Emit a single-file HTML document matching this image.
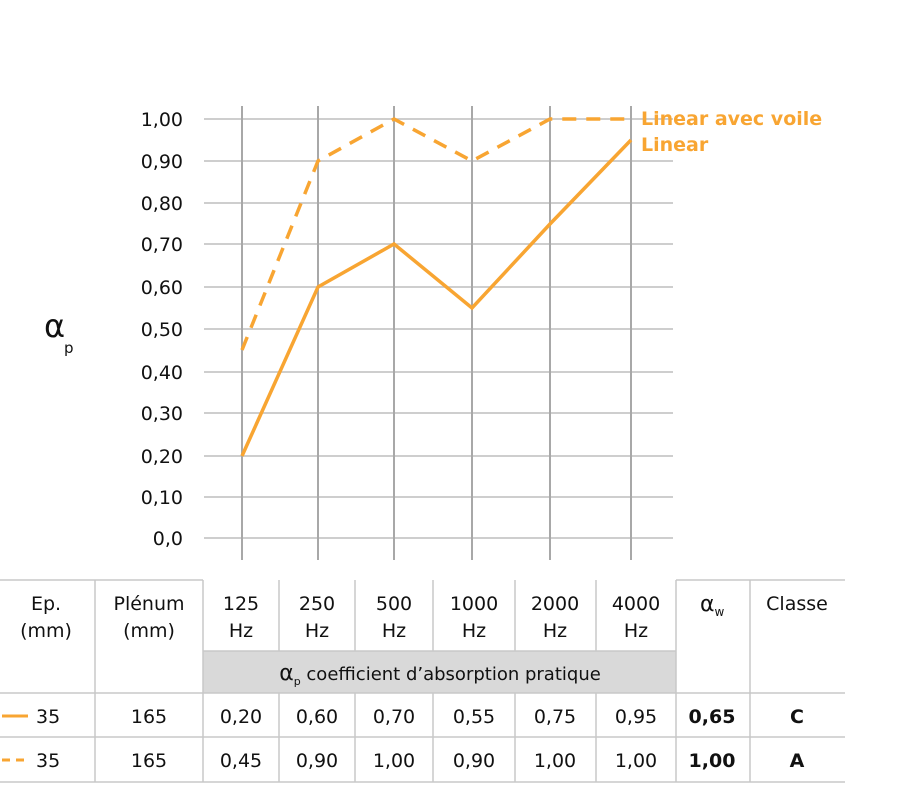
<!DOCTYPE html>
<html><head><meta charset="utf-8"><style>
html,body{margin:0;padding:0;background:#fff;}
svg{display:block;font-family:"DejaVu Sans","Liberation Sans",sans-serif;}
</style></head><body>
<svg width="897" height="801" viewBox="0 0 897 801" xmlns="http://www.w3.org/2000/svg">
<g stroke="#bdbdbd" stroke-width="1.5">
<line x1="204" y1="119" x2="673" y2="119"/>
<line x1="204" y1="161" x2="673" y2="161"/>
<line x1="204" y1="203" x2="673" y2="203"/>
<line x1="204" y1="244" x2="673" y2="244"/>
<line x1="204" y1="287" x2="673" y2="287"/>
<line x1="204" y1="329" x2="673" y2="329"/>
<line x1="204" y1="372" x2="673" y2="372"/>
<line x1="204" y1="413" x2="673" y2="413"/>
<line x1="204" y1="456" x2="673" y2="456"/>
<line x1="204" y1="497" x2="673" y2="497"/>
<line x1="204" y1="538" x2="673" y2="538"/>
</g>
<g stroke="#a8a8a8" stroke-width="2">
<line x1="242" y1="106" x2="242" y2="560"/>
<line x1="318" y1="106" x2="318" y2="560"/>
<line x1="394" y1="106" x2="394" y2="560"/>
<line x1="472" y1="106" x2="472" y2="560"/>
<line x1="550" y1="106" x2="550" y2="560"/>
<line x1="631" y1="106" x2="631" y2="560"/>
</g>
<g font-size="19" fill="#111" text-anchor="end">
<text x="183" y="126">1,00</text>
<text x="183" y="168">0,90</text>
<text x="183" y="210">0,80</text>
<text x="183" y="251">0,70</text>
<text x="183" y="294">0,60</text>
<text x="183" y="336">0,50</text>
<text x="183" y="379">0,40</text>
<text x="183" y="420">0,30</text>
<text x="183" y="463">0,20</text>
<text x="183" y="504">0,10</text>
<text x="183" y="545">0,0</text>
</g>
<text x="44" y="337" font-size="32" fill="#111">α</text>
<text x="64" y="353" font-size="15" fill="#111">p</text>
<polyline points="242,456 318,287 394,244 472,308 550,224 631,140" fill="none" stroke="#f8a532" stroke-width="3.5"/>
<polyline points="242,350 318,161 394,119 472,161 550,119 631,119" fill="none" stroke="#f8a532" stroke-width="3.5" stroke-dasharray="14,10"/>
<g font-size="19" font-weight="bold" fill="#f8a532">
<text x="641" y="125">Linear avec voile</text>
<text x="641" y="151">Linear</text>
</g>
<rect x="203" y="651" width="473" height="42" fill="#d9d9d9"/>
<g stroke="#c8c8c8" stroke-width="1.5">
<line x1="0" y1="580" x2="203" y2="580"/>
<line x1="676" y1="580" x2="845" y2="580"/>
<line x1="203" y1="651" x2="676" y2="651"/>
<line x1="0" y1="693" x2="845" y2="693"/>
<line x1="0" y1="737" x2="845" y2="737"/>
<line x1="0" y1="782" x2="845" y2="782"/>
<line x1="95" y1="580" x2="95" y2="782"/>
<line x1="203" y1="580" x2="203" y2="782"/>
<line x1="279" y1="580" x2="279" y2="651"/>
<line x1="355" y1="580" x2="355" y2="651"/>
<line x1="433" y1="580" x2="433" y2="651"/>
<line x1="515" y1="580" x2="515" y2="651"/>
<line x1="596" y1="580" x2="596" y2="651"/>
<line x1="676" y1="580" x2="676" y2="782"/>
<line x1="750" y1="580" x2="750" y2="782"/>
<line x1="279" y1="693" x2="279" y2="782"/>
<line x1="355" y1="693" x2="355" y2="782"/>
<line x1="433" y1="693" x2="433" y2="782"/>
<line x1="515" y1="693" x2="515" y2="782"/>
<line x1="596" y1="693" x2="596" y2="782"/>
</g>
<g font-size="19" fill="#111" text-anchor="middle">
<text x="46" y="610">Ep.</text><text x="46" y="637">(mm)</text>
<text x="149" y="610">Plénum</text><text x="149" y="637">(mm)</text>
<text x="241" y="610">125</text><text x="241" y="637">Hz</text>
<text x="317" y="610">250</text><text x="317" y="637">Hz</text>
<text x="394" y="610">500</text><text x="394" y="637">Hz</text>
<text x="474" y="610">1000</text><text x="474" y="637">Hz</text>
<text x="555" y="610">2000</text><text x="555" y="637">Hz</text>
<text x="636" y="610">4000</text><text x="636" y="637">Hz</text>
<text x="797" y="610">Classe</text>
<text x="440" y="680" font-size="18"><tspan font-size="22">α</tspan><tspan font-size="11" dy="5">p</tspan><tspan dy="-5"> coefficient d’absorption pratique</tspan></text>
<text x="149" y="723">165</text><text x="149" y="767">165</text>
<text x="241" y="723">0,20</text><text x="317" y="723">0,60</text><text x="394" y="723">0,70</text><text x="474" y="723">0,55</text><text x="555" y="723">0,75</text><text x="636" y="723">0,95</text>
<text x="241" y="767">0,45</text><text x="317" y="767">0,90</text><text x="394" y="767">1,00</text><text x="474" y="767">0,90</text><text x="555" y="767">1,00</text><text x="636" y="767">1,00</text>
<g font-weight="bold">
<text x="712" y="723">0,65</text><text x="712" y="767">1,00</text>
<text x="797" y="723">C</text><text x="797" y="767">A</text>
</g>
</g>
<text x="700" y="611" font-size="22" fill="#111">α<tspan font-size="12" dy="5">w</tspan></text>
<g font-size="19" fill="#111">
<text x="36" y="723">35</text><text x="36" y="767">35</text>
</g>
<line x1="2" y1="716" x2="28" y2="716" stroke="#f8a532" stroke-width="3"/>
<line x1="2" y1="760" x2="28" y2="760" stroke="#f8a532" stroke-width="3" stroke-dasharray="8,6"/>
</svg>
</body></html>
